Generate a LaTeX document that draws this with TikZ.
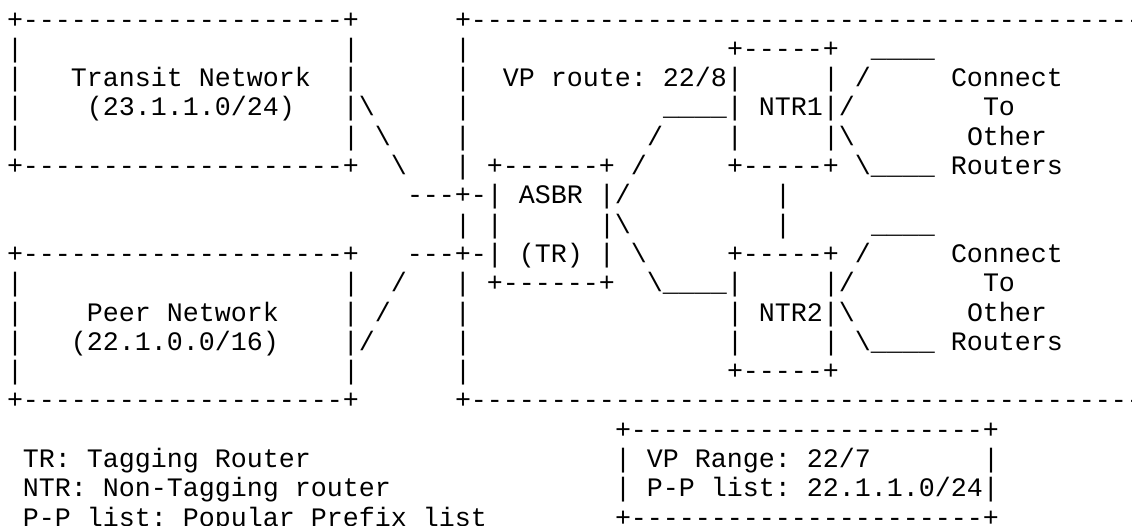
\documentclass[tikz,border=0pt]{standalone}
\usepackage{fontspec}
\setmonofont{Liberation Mono}
\newcommand\ascfont{\ttfamily\fontsize{26.6623pt}{29.3pt}\selectfont\frenchspacing}
\newdimen\cw
\cw=16pt
\newcommand\SP[1]{\kern#1\cw}
\newcommand\DA[1]{\foreach \dai in {1,...,#1}{-\kern0pt}}
\newcommand\ABS{\textbackslash}
\begin{document}
\begin{tikzpicture}[x=1pt,y=-1pt,
  asc/.style={anchor=base west,inner sep=0pt,outer sep=0pt,font=\ascfont,text=black}]
\useasboundingbox (0,0) rectangle (1132,525);
\fill[white] (0,0) rectangle (1132,525);
\clip (0,0) rectangle (1132,525);
\node[asc] (r0)  at (7,28.0)  {+\DA{20}+\SP{6}+\DA{44}};
\node[asc] (r1)  at (7,57.3)  {|\SP{20}|\SP{6}|\SP{16}+\DA{5}+\SP{2}\_\_\_\_};
\node[asc] (r2)  at (7,86.6)  {|\SP{3}Transit Network\SP{2}|\SP{6}|\SP{2}VP route: 22/8|\SP{5}|\SP{1}/\SP{5}Connect};
\node[asc] (r3)  at (7,115.9) {|\SP{4}(23.1.1.0/24)\SP{3}|\ABS\SP{5}|\SP{12}\_\_\_\_|\SP{1}NTR1|/\SP{8}To};
\node[asc] (r4)  at (7,145.2) {|\SP{20}|\SP{1}\ABS\SP{4}|\SP{11}/\SP{4}|\SP{5}|\ABS\SP{7}Other};
\node[asc] (r5)  at (7,174.5) {+\DA{20}+\SP{2}\ABS\SP{3}|\SP{1}+\DA{6}+\SP{1}/\SP{5}+\DA{5}+\SP{1}\ABS\_\_\_\_\SP{1}Routers};
\node[asc] (r6)  at (7,203.8) {\SP{25}\DA{3}+-|\SP{1}ASBR\SP{1}|/\SP{9}|};
\node[asc] (r7)  at (7,233.1) {\SP{28}|\SP{1}|\SP{6}|\ABS\SP{9}|\SP{5}\_\_\_\_};
\node[asc] (r8)  at (7,262.4) {+\DA{20}+\SP{3}\DA{3}+-|\SP{1}(TR)\SP{1}|\SP{1}\ABS\SP{5}+\DA{5}+\SP{1}/\SP{5}Connect};
\node[asc] (r9)  at (7,291.7) {|\SP{20}|\SP{2}/\SP{3}|\SP{1}+\DA{6}+\SP{2}\ABS\_\_\_\_|\SP{5}|/\SP{8}To};
\node[asc] (r10) at (7,321.0) {|\SP{4}Peer Network\SP{4}|\SP{1}/\SP{4}|\SP{16}|\SP{1}NTR2|\ABS\SP{7}Other};
\node[asc] (r11) at (7,350.3) {|\SP{3}(22.1.0.0/16)\SP{4}|/\SP{5}|\SP{16}|\SP{5}|\SP{1}\ABS\_\_\_\_\SP{1}Routers};
\node[asc] (r12) at (7,379.6) {|\SP{20}|\SP{6}|\SP{16}+\DA{5}+};
\node[asc] (r13) at (7,408.9) {+\DA{20}+\SP{6}+\DA{44}};
\node[asc] (r14) at (7,438.2) {\SP{38}+\DA{22}+};
\node[asc] (r15) at (7,467.5) {\SP{1}TR: Tagging Router\SP{19}|\SP{1}VP Range: 22/7\SP{7}|};
\node[asc] (r16) at (7,496.8) {\SP{1}NTR: Non-Tagging router\SP{14}|\SP{1}P-P list: 22.1.1.0/24|};
\node[asc] (r17) at (7,526.1) {\SP{1}P-P list: Popular Prefix list\SP{8}+\DA{22}+};
\end{tikzpicture}
\end{document}
